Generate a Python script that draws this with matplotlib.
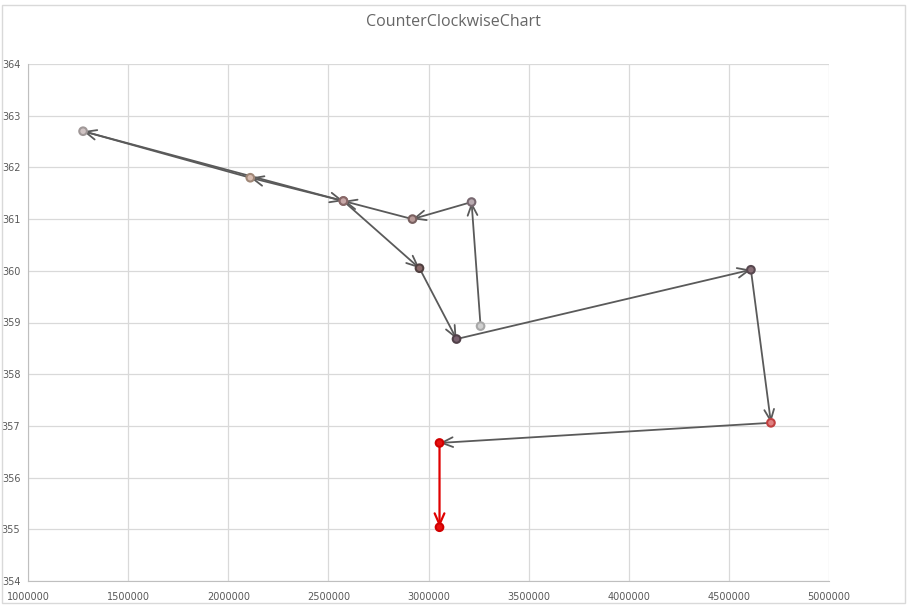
import matplotlib.pyplot as plt
import matplotlib.patches as mpatches

# path of points, in drawing order (last one is the red end)
x_vals = [3260000, 3215000, 2920000, 2575000, 2110000, 1275000, 2575000,
          2955000, 3140000, 4610000, 4710000, 3055000, 3055000]
y_vals = [358.93, 361.33, 361.00, 361.35, 361.80, 362.70, 361.35,
          360.05, 358.68, 360.02, 357.06, 356.67, 355.04]
marker_face = ['#d0d0d0', '#b8aab0', '#b89a98', '#c8a8a8', '#d8bcb0', '#d0c4c4', '#c8a8a8',
               '#8a6a6a', '#7a6270', '#8a7078', '#e08080', '#e81010', '#e81010']
marker_edge = ['#a8a8a8', '#786870', '#786060', '#886868', '#a08878', '#a09898', '#886868',
               '#504040', '#504048', '#584850', '#c04040', '#d00000', '#d00000']

x_ticks = [1000000, 1500000, 2000000, 2500000, 3000000, 3500000, 4000000, 4500000, 5000000]
y_ticks = [354, 355, 356, 357, 358, 359, 360, 361, 362, 363, 364]

fig = plt.figure(figsize=(9.07, 6.08), dpi=100)
ax = fig.add_axes([28 / 907, 27 / 608, 801 / 907, 517 / 608])

# chart area border like the spreadsheet chart
fig.patches.append(mpatches.Rectangle((2 / 907, 5 / 608), 903 / 907, 598 / 608,
                                      transform=fig.transFigure, fill=False,
                                      edgecolor='#d9d9d9', linewidth=1))

# segments with open arrowheads
for i in range(1, len(x_vals)):
    col = '#e00000' if i == len(x_vals) - 1 else '#5a5a5a'
    lw = 1.6 if i == len(x_vals) - 1 else 1.3
    ax.annotate('', xy=(x_vals[i], y_vals[i]), xytext=(x_vals[i - 1], y_vals[i - 1]),
                arrowprops=dict(arrowstyle='->,head_length=0.8,head_width=0.35',
                                color=col, lw=lw, shrinkA=0, shrinkB=0))

ax.scatter(x_vals, y_vals, s=30, c=marker_face, edgecolors=marker_edge, linewidths=1.5, zorder=5)

ax.set_xlim(1000000, 5000000)
ax.set_ylim(354, 364)
ax.set_xticks(x_ticks)
ax.set_yticks(y_ticks)
ax.set_xticklabels([str(v) for v in x_ticks])
ax.set_yticklabels([str(v) for v in y_ticks])
ax.grid(True, color='#d9d9d9', linewidth=0.9)
ax.set_axisbelow(True)
for side in ['top', 'right']:
    ax.spines[side].set_visible(False)
for side in ['left', 'bottom']:
    ax.spines[side].set_color('#bfbfbf')
ax.tick_params(length=0, labelsize=7, colors='#595959')
ax.tick_params(axis='y', pad=5.5)
ax.tick_params(axis='x', pad=8)

fig.text(0.5, 1 - 22 / 608, 'CounterClockwiseChart', ha='center', va='center',
         fontsize=11.5, color='#666666', family='Open Sans')

fig.savefig('out.png', dpi=100)
